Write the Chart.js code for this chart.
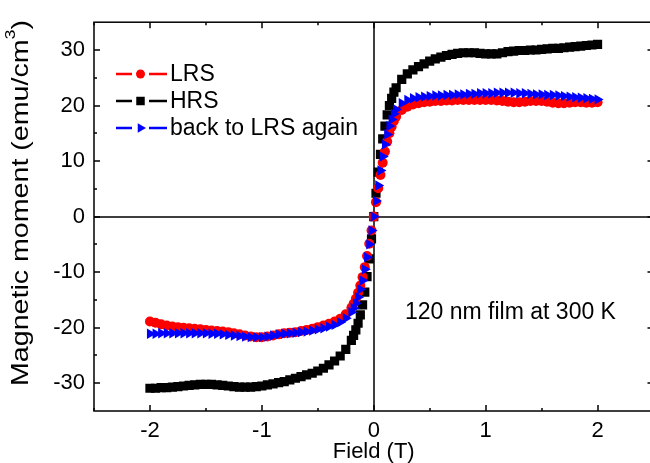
<!DOCTYPE html>
<html lang="en">
<head>
    <meta charset="UTF-8">
    <title>Magnetic moment vs field</title>
    <style>
        html, body {
            margin: 0;
            padding: 0;
            background: #ffffff;
            overflow: hidden;
        }
        .wrap {
            width: 650px;
            height: 463px;
            overflow: hidden;
        }
    </style>
</head>
<body>
    <div class="wrap">
        <canvas id="mhChart" width="660" height="463"></canvas>
    </div>

    <script src="https://cdn.jsdelivr.net/npm/chart.js"></script>
    <script>
        // field values (T), shared by the three sweeps
        const field = [
            -2.00, -1.95, -1.90, -1.85, -1.80, -1.75, -1.70, -1.65, -1.60, -1.55,
            -1.50, -1.45, -1.40, -1.35, -1.30, -1.25, -1.20, -1.15, -1.10, -1.05,
            -1.00, -0.95, -0.90, -0.85, -0.80, -0.75, -0.70, -0.65, -0.60, -0.55,
            -0.50, -0.45, -0.40, -0.35, -0.30, -0.25, -0.20,
            -0.18, -0.16, -0.14, -0.12, -0.10, -0.08, -0.06, -0.04, -0.02,
            0.00,
            0.02, 0.04, 0.06, 0.08, 0.10, 0.12, 0.14, 0.16, 0.18,
            0.20, 0.25, 0.30, 0.35, 0.40, 0.45,
            0.50, 0.55, 0.60, 0.65, 0.70, 0.75, 0.80, 0.85, 0.90, 0.95,
            1.00, 1.05, 1.10, 1.15, 1.20, 1.25, 1.30, 1.35, 1.40, 1.45,
            1.50, 1.55, 1.60, 1.65, 1.70, 1.75, 1.80, 1.85, 1.90, 1.95,
            2.00
        ];

        // LRS (red circles)
        const lrs = [
            -18.9, -19.1, -19.4, -19.6, -19.8, -19.9, -20.0, -20.1, -20.2, -20.3,
            -20.4, -20.5, -20.6, -20.7, -20.8, -21.0, -21.2, -21.4, -21.6, -21.7,
            -21.7, -21.6, -21.4, -21.2, -21.0, -20.9, -20.8, -20.6, -20.4, -20.2,
            -19.9, -19.6, -19.3, -18.9, -18.4, -17.6, -16.4,
            -15.7, -14.8, -13.7, -12.4, -10.9, -9.1, -7.1, -4.9, -2.5,
            0.0,
            2.6, 5.1, 7.5, 9.7, 11.7, 13.5, 15.0, 16.2, 17.2,
            18.0, 19.2, 19.8, 20.2, 20.4, 20.6,
            20.7, 20.8, 20.8, 20.9, 20.9, 21.0, 21.0, 21.0, 21.0, 21.0,
            21.0, 21.0, 20.9, 20.8, 20.7, 20.6, 20.6, 20.7, 20.8, 20.8,
            20.8, 20.7, 20.5, 20.4, 20.4, 20.5, 20.6, 20.6, 20.5, 20.5,
            20.6
        ];

        // HRS (black squares)
        const hrs = [
            -30.9, -30.9, -30.8, -30.8, -30.7, -30.6, -30.5, -30.4, -30.3, -30.2,
            -30.2, -30.2, -30.3, -30.4, -30.5, -30.6, -30.7, -30.7, -30.7, -30.6,
            -30.5, -30.3, -30.1, -29.9, -29.7, -29.4, -29.1, -28.8, -28.5, -28.2,
            -27.8, -27.3, -26.7, -26.0, -25.1, -23.9, -22.3,
            -21.4, -20.4, -19.2, -17.7, -15.9, -13.6, -10.8, -7.6, -4.0,
            0.0,
            4.2, 8.0, 11.2, 14.0, 16.3, 18.3, 20.0, 21.3, 22.4,
            23.2, 24.7, 25.7, 26.4, 27.0, 27.5,
            28.0, 28.4, 28.7, 29.0, 29.2, 29.4, 29.5, 29.5, 29.5, 29.4,
            29.3, 29.3, 29.3, 29.5, 29.7, 29.8, 29.9, 29.9, 30.0, 30.0,
            30.1, 30.2, 30.3, 30.3, 30.4, 30.5, 30.6, 30.7, 30.8, 30.9,
            31.0
        ];

        // back to LRS again (blue triangles)
        const lrsAgain = [
            -21.1, -21.1, -21.0, -21.0, -21.0, -21.0, -21.0, -21.0, -21.0, -21.0,
            -21.0, -21.1, -21.1, -21.2, -21.3, -21.4, -21.5, -21.6, -21.7, -21.7,
            -21.7, -21.6, -21.4, -21.2, -21.1, -21.0, -20.9, -20.8, -20.7, -20.5,
            -20.3, -20.1, -19.8, -19.5, -19.0, -18.3, -17.2,
            -16.5, -15.6, -14.5, -13.1, -11.5, -9.5, -7.3, -5.0, -2.5,
            0.0,
            2.8, 5.6, 8.3, 10.8, 13.0, 14.8, 16.3, 17.5, 18.5,
            19.3, 20.4, 21.0, 21.3, 21.5, 21.6,
            21.7, 21.8, 21.8, 21.9, 21.9, 22.0, 22.0, 22.1, 22.1, 22.2,
            22.2, 22.2, 22.3, 22.3, 22.3, 22.3, 22.2, 22.2, 22.1, 22.0,
            22.0, 21.9, 21.9, 21.8, 21.7, 21.6, 21.5, 21.4, 21.3, 21.2,
            21.1
        ];

        const xTicks = [-2, -1, 0, 1, 2];
        const xMinor = [-2.5, -1.5, -0.5, 0.5, 1.5, 2.5];
        const yTicks = [-30, -20, -10, 0, 10, 20, 30];
        const yMinor = [-25, -15, -5, 5, 15, 25];

        const FONT = "'Liberation Sans', Arial, sans-serif";

        function toPoints(ys) {
            return field.map((x, i) => ({ x: x, y: ys[i] }));
        }

        // frame, inside ticks, zero lines, legend, titles
        const framePlugin = {
            id: 'frame',
            beforeDatasetsDraw(chart) {
                const { ctx, chartArea: a, scales: { x, y } } = chart;
                ctx.save();
                ctx.strokeStyle = '#000';
                ctx.lineWidth = 1.5;
                ctx.beginPath();
                const x0 = Math.round(x.getPixelForValue(0));
                const y0 = Math.round(y.getPixelForValue(0));
                ctx.moveTo(x0, a.top);
                ctx.lineTo(x0, a.bottom);
                ctx.moveTo(a.left, y0);
                ctx.lineTo(a.right, y0);
                ctx.stroke();
                ctx.restore();
            },
            afterDraw(chart) {
                const { ctx, chartArea: a, scales: { x, y } } = chart;
                ctx.save();
                ctx.strokeStyle = '#000';
                ctx.lineWidth = 1.5;
                ctx.strokeRect(a.left, a.top, a.right - a.left, a.bottom - a.top);

                ctx.beginPath();
                const tick = (vals, len) => {
                    vals.forEach(v => {
                        const px = Math.round(x.getPixelForValue(v));
                        ctx.moveTo(px, a.bottom);
                        ctx.lineTo(px, a.bottom - len);
                        ctx.moveTo(px, a.top);
                        ctx.lineTo(px, a.top + len);
                    });
                };
                const tickY = (vals, len) => {
                    vals.forEach(v => {
                        const py = Math.round(y.getPixelForValue(v));
                        ctx.moveTo(a.left, py);
                        ctx.lineTo(a.left + len, py);
                        ctx.moveTo(a.right, py);
                        ctx.lineTo(a.right - len, py);
                    });
                };
                tick(xTicks, 6);
                tick(xMinor, 3);
                tickY(yTicks, 6);
                tickY(yMinor, 3);
                ctx.stroke();

                // legend
                const rows = [74, 101, 128];
                chart.data.datasets.forEach((ds, i) => {
                    const ly = rows[i];
                    ctx.strokeStyle = ds.backgroundColor;
                    ctx.lineWidth = 2.5;
                    ctx.beginPath();
                    ctx.moveTo(116, ly);
                    ctx.lineTo(132, ly);
                    ctx.moveTo(149, ly);
                    ctx.lineTo(167, ly);
                    ctx.stroke();
                    ctx.fillStyle = ds.backgroundColor;
                    Chart.helpers.drawPoint(ctx, {
                        pointStyle: ds.pointStyle,
                        radius: ds.pointRadius - 0.5,
                        rotation: ds.rotation || 0,
                        borderWidth: 0
                    }, 140.5, ly);
                    ctx.fillStyle = '#000';
                    ctx.font = '23px ' + FONT;
                    ctx.textBaseline = 'middle';
                    ctx.textAlign = 'left';
                    ctx.fillText(ds.label, 170, ly + 1);
                });

                // annotation
                ctx.fillStyle = '#000';
                ctx.font = '23px ' + FONT;
                ctx.textBaseline = 'middle';
                ctx.textAlign = 'left';
                ctx.fillText('120 nm film at 300 K', 405, 313);

                // x title
                ctx.font = '22px ' + FONT;
                ctx.textAlign = 'center';
                ctx.fillText('Field (T)', x.getPixelForValue(0), 452);

                // y title with superscript, stretched along its length
                ctx.translate(21, 203);
                ctx.rotate(-Math.PI / 2);
                const main = 'Magnetic moment (emu/cm';
                ctx.font = '24px ' + FONT;
                const wMain = ctx.measureText(main).width;
                ctx.font = '15px ' + FONT;
                const wSup = ctx.measureText('3').width;
                ctx.font = '24px ' + FONT;
                const wEnd = ctx.measureText(')').width;
                const total = wMain + wSup + wEnd;
                ctx.scale(366 / total, 1);
                let sx = -total / 2;
                ctx.textAlign = 'left';
                ctx.fillText(main, sx, 0);
                sx += wMain;
                ctx.font = '15px ' + FONT;
                ctx.fillText('3', sx, -10);
                sx += wSup;
                ctx.font = '24px ' + FONT;
                ctx.fillText(')', sx, 0);
                ctx.restore();
            }
        };

        new Chart(document.getElementById('mhChart'), {
            type: 'scatter',
            data: {
                datasets: [
                    {
                        label: 'LRS',
                        data: toPoints(lrs),
                        backgroundColor: '#ff0000',
                        borderWidth: 0,
                        pointStyle: 'circle',
                        pointRadius: 5,
                        order: 1
                    },
                    {
                        label: 'HRS',
                        data: toPoints(hrs),
                        backgroundColor: '#000000',
                        borderWidth: 0,
                        pointStyle: 'rect',
                        pointRadius: 6.5,
                        order: 2
                    },
                    {
                        label: 'back to LRS again',
                        data: toPoints(lrsAgain),
                        backgroundColor: '#0000ff',
                        borderWidth: 0,
                        pointStyle: 'triangle',
                        pointRadius: 6,
                        rotation: 90,
                        order: 0
                    }
                ]
            },
            plugins: [framePlugin],
            options: {
                responsive: false,
                devicePixelRatio: 1,
                animation: false,
                layout: { padding: { top: 13, right: 3, left: 0, bottom: 0 } },
                plugins: {
                    legend: { display: false },
                    tooltip: { enabled: false }
                },
                scales: {
                    x: {
                        type: 'linear',
                        min: -2.5,
                        max: 2.5,
                        grid: { display: false, drawTicks: false },
                        border: { display: false },
                        afterFit: s => { s.height = 52; },
                        afterBuildTicks: s => { s.ticks = xTicks.map(v => ({ value: v })); },
                        ticks: {
                            color: '#000',
                            padding: 7,
                            maxRotation: 0,
                            font: { family: FONT, size: 22 },
                            callback: v => String(v)
                        }
                    },
                    y: {
                        type: 'linear',
                        min: -35,
                        max: 35,
                        grid: { display: false, drawTicks: false },
                        border: { display: false },
                        afterFit: s => { s.width = 94; },
                        afterBuildTicks: s => { s.ticks = yTicks.map(v => ({ value: v })); },
                        ticks: {
                            color: '#000',
                            padding: 9,
                            font: { family: FONT, size: 22 },
                            callback: v => String(v)
                        }
                    }
                }
            }
        });
    </script>
</body>
</html>
